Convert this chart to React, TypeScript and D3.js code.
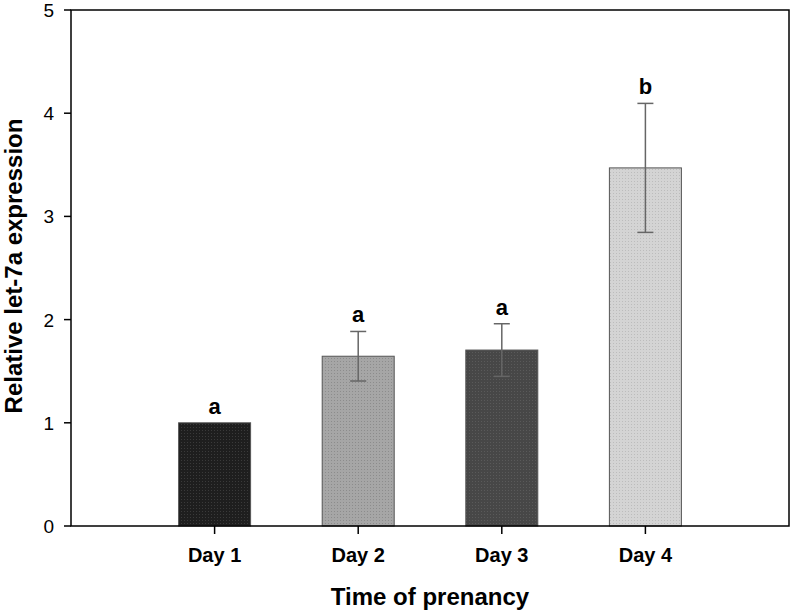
import React from "react";
import * as d3 from "d3";

const categories = ["Day 1", "Day 2", "Day 3", "Day 4"];
const means = [1.0, 1.645, 1.705, 3.47];
const errors = [0, 0.24, 0.255, 0.625];
const letters = ["a", "a", "a", "b"];
const yTicks = [0, 1, 2, 3, 4, 5];
const fills = ["#1e1e1e", "#a6a6a6", "#474747", "#d4d4d4"];
const dots = ["#3a3a3a", "#8c8c8c", "#5a5a5a", "#bcbcbc"];

export default function App() {
  const W = 793, H = 614;
  const left = 71, right = 789, top = 10, bottom = 526;
  const x = d3.scaleLinear().domain([0, 5]).range([left, right]);
  const y = d3.scaleLinear().domain([0, 5]).range([bottom, top]);
  const barW = 72;
  const font = "Arial, 'Liberation Sans', sans-serif";
  return (
    <svg width={W} height={H} style={{ position: "absolute", left: 0, top: 0, background: "#fff" }}>
      <defs>
        {fills.map((f, i) => (
          <pattern key={i} id={`p${i}`} width={3} height={3} patternUnits="userSpaceOnUse">
            <rect width={3} height={3} fill={f} />
            <rect x={1} y={1} width={1} height={1} fill={dots[i]} />
          </pattern>
        ))}
      </defs>
      {categories.map((c, i) => {
        const cx = x(i + 1);
        const m = means[i];
        const e = errors[i];
        const yt = y(m + e);
        return (
          <g key={c}>
            <rect x={cx - barW / 2} y={y(m)} width={barW} height={y(0) - y(m)} fill={`url(#p${i})`} stroke="#555" strokeWidth={1} />
            {e > 0 && (
              <g stroke="#666" strokeWidth={1.5}>
                <line x1={cx} x2={cx} y1={y(m + e)} y2={y(m - e)} />
                <line x1={cx - 8} x2={cx + 8} y1={y(m + e)} y2={y(m + e)} />
                <line x1={cx - 8} x2={cx + 8} y1={y(m - e)} y2={y(m - e)} />
              </g>
            )}
            <text x={cx} y={yt - 9} textAnchor="middle" fontFamily={font} fontWeight="bold" fontSize={22} fill="#000">{letters[i]}</text>
            <line x1={cx} x2={cx} y1={bottom} y2={bottom + 8} stroke="#000" strokeWidth={1.5} />
            <text x={cx} y={562} textAnchor="middle" fontFamily={font} fontWeight="bold" fontSize={20} fill="#000">{c}</text>
          </g>
        );
      })}
      <rect x={left} y={top} width={right - left} height={bottom - top} fill="none" stroke="#000" strokeWidth={1.5} />
      {yTicks.map((t) => (
        <g key={t}>
          <line x1={left - 7} x2={left} y1={y(t)} y2={y(t)} stroke="#000" strokeWidth={1.5} />
          <text x={54} y={y(t) + 7} textAnchor="end" fontFamily={font} fontSize={19} fill="#000">{t}</text>
        </g>
      ))}
      <text transform={`translate(22,266) rotate(-90)`} textAnchor="middle" fontFamily={font} fontWeight="bold" fontSize={24} fill="#000">Relative let-7a expression</text>
      <text x={430} y={605} textAnchor="middle" fontFamily={font} fontWeight="bold" fontSize={24} fill="#000">Time of prenancy</text>
    </svg>
  );
}
